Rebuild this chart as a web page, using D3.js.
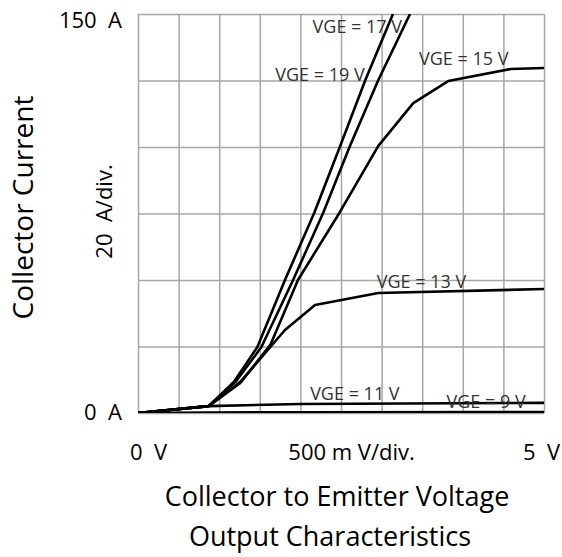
<!DOCTYPE html>
<html>
<head>
<meta charset="utf-8">
<script src="https://cdn.jsdelivr.net/npm/d3@7"></script>
<style>
  body { margin: 0; background: #fff; }
  text { font-family: "Open Sans", "Noto Sans", sans-serif; white-space: pre; }
</style>
</head>
<body>
<svg id="chart"></svg>
<script>
// curves: collector-emitter voltage (V) vs collector current (A)
const vge9_v  = [0, 0.87, 2.0, 5.0];
const vge9_a  = [0, 0.2, 0.3, 0.4];
const vge11_v = [0, 0.87, 2.0, 5.0];
const vge11_a = [0, 2.6, 3.4, 3.8];
const vge13_v = [0, 0.87, 1.26, 1.81, 2.18, 2.96, 5.0];
const vge13_a = [0, 2.6, 11.7, 31.2, 40.6, 45.1, 46.6];
const vge15_v = [0, 0.87, 1.26, 1.63, 1.97, 2.48, 2.96, 3.39, 3.82, 4.59, 5.0];
const vge15_a = [0, 2.6, 11.3, 25.6, 50.0, 75.2, 100.4, 116.5, 124.8, 129.3, 129.7];
const vge17_v = [0, 0.87, 1.21, 1.52, 1.91, 2.28, 2.61, 2.96, 3.35];
const vge17_a = [0, 2.6, 12.0, 24.8, 50.0, 75.2, 100.4, 125.2, 150];
const vge19_v = [0, 0.87, 1.18, 1.47, 1.81, 2.17, 2.49, 2.80, 3.14];
const vge19_a = [0, 2.6, 11.7, 24.8, 50.0, 75.2, 100.4, 125.2, 150];

const curveNames = ['VGE = 9 V', 'VGE = 11 V', 'VGE = 13 V', 'VGE = 15 V', 'VGE = 17 V', 'VGE = 19 V'];
// label anchor (V, A) for each curve name
const labelV = [3.80, 2.12, 2.94, 3.46, 2.15, 1.69];
const labelA = [1.9, 4.9, 47.0, 130.8, 142.9, 124.8];

const xTicks = [0, 0.5, 1, 1.5, 2, 2.5, 3, 3.5, 4, 4.5, 5];
const yTicks = [0, 25, 50, 75, 100, 125, 150];
const xTickLabels = ['0  V', '500 m V/div.', '5  V'];
const yTickLabels = ['0  A', '20  A/div.', '150  A'];
const xTitle = ['Collector to Emitter Voltage', 'Output Characteristics'];
const yTitle = 'Collector Current';

const width = 562, height = 557;
const margin = {top: 14, right: 18, bottom: 144, left: 138};

const svg = d3.select('#chart')
    .attr('width', width)
    .attr('height', height);

const x = d3.scaleLinear().domain([0, 5]).range([margin.left, width - margin.right]);
const y = d3.scaleLinear().domain([0, 150]).range([height - margin.bottom, margin.top]);

// grid
svg.append('g')
    .attr('transform', `translate(0,${y(0)})`)
    .call(d3.axisBottom(x).tickValues(xTicks).tickSize(-(y(0) - y(150))).tickFormat(''))
    .call(g => g.select('.domain').remove())
    .selectAll('line').attr('stroke', '#a6a6a6').attr('stroke-width', 1.5);

svg.append('g')
    .attr('transform', `translate(${x(0)},0)`)
    .call(d3.axisLeft(y).tickValues(yTicks).tickSize(-(x(5) - x(0))).tickFormat(''))
    .call(g => g.select('.domain').remove())
    .selectAll('line').attr('stroke', '#a6a6a6').attr('stroke-width', 1.5);

svg.append('clipPath').attr('id', 'plot-clip')
  .append('rect')
    .attr('x', x(0)).attr('y', y(150))
    .attr('width', x(5) - x(0)).attr('height', y(0) - y(150));

const series = [
    [vge9_v, vge9_a], [vge11_v, vge11_a], [vge13_v, vge13_a],
    [vge15_v, vge15_a], [vge17_v, vge17_a], [vge19_v, vge19_a]
].map(([vs, as]) => vs.map((v, i) => ({v: v, a: as[i]})));

const line = d3.line()
    .x(d => x(d.v))
    .y(d => y(d.a));

svg.append('g')
    .attr('clip-path', 'url(#plot-clip)')
  .selectAll('path')
  .data(series)
  .join('path')
    .attr('d', line)
    .attr('fill', 'none')
    .attr('stroke', '#000')
    .attr('stroke-width', 2.6)
    .attr('stroke-linejoin', 'round');

// curve labels
svg.append('g')
  .selectAll('text')
  .data(curveNames)
  .join('text')
    .attr('x', (d, i) => x(labelV[i]))
    .attr('y', (d, i) => y(labelA[i]))
    .attr('fill', '#333')
    .style('font-size', '18px')
    .text(d => d);

// y tick labels
svg.append('text')
    .attr('x', x(0) - 16).attr('y', y(150) + 14)
    .attr('text-anchor', 'end')
    .style('font-size', '22px')
    .text(yTickLabels[2]);
svg.append('text')
    .attr('x', x(0) - 16).attr('y', y(0) + 7)
    .attr('text-anchor', 'end')
    .style('font-size', '22px')
    .text(yTickLabels[0]);
svg.append('text')
    .attr('transform', `translate(${x(0) - 26},${y(75) - 2}) rotate(-90)`)
    .attr('text-anchor', 'middle')
    .style('font-size', '22px')
    .text(yTickLabels[1]);

// x tick labels
svg.append('text')
    .attr('x', x(0) - 8).attr('y', y(0) + 47)
    .style('font-size', '22px')
    .text(xTickLabels[0]);
svg.append('text')
    .attr('x', x(2.63)).attr('y', y(0) + 47)
    .attr('text-anchor', 'middle')
    .style('font-size', '22px')
    .text(xTickLabels[1]);
svg.append('text')
    .attr('x', width - 2).attr('y', y(0) + 47)
    .attr('text-anchor', 'end')
    .style('font-size', '22px')
    .text(xTickLabels[2]);

// titles
svg.append('text')
    .attr('x', 337).attr('y', 506)
    .attr('text-anchor', 'middle')
    .style('font-size', '27px')
    .text(xTitle[0]);
svg.append('text')
    .attr('x', 330).attr('y', 546)
    .attr('text-anchor', 'middle')
    .style('font-size', '27px')
    .text(xTitle[1]);
svg.append('text')
    .attr('transform', `translate(33,${y(75) - 6}) rotate(-90)`)
    .attr('text-anchor', 'middle')
    .style('font-size', '28px')
    .text(yTitle);
</script>
</body>
</html>
